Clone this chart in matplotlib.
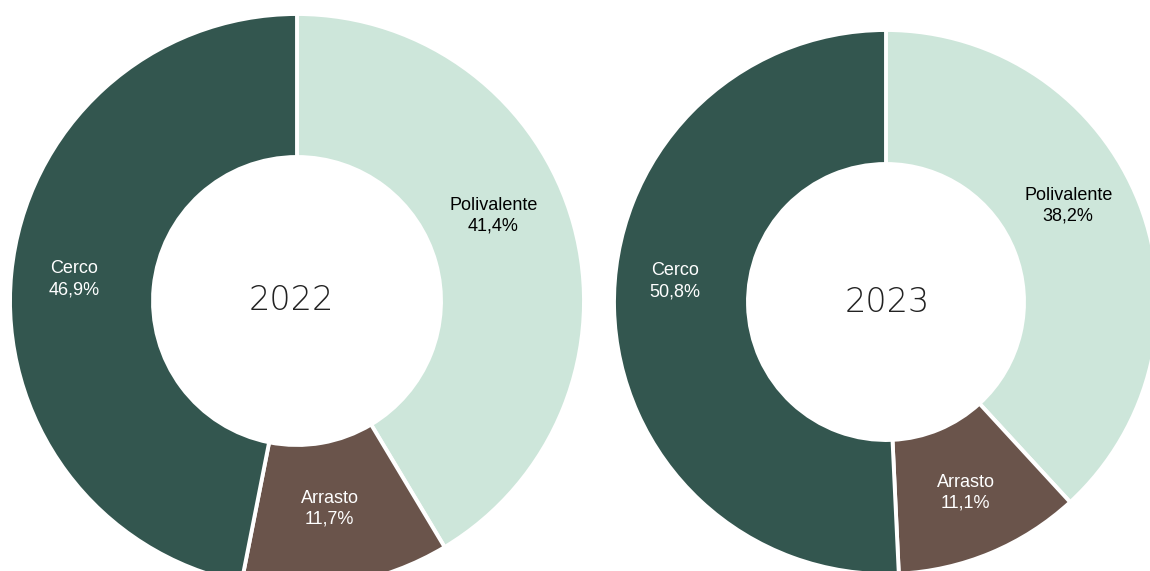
import numpy as np
import matplotlib.pyplot as plt
from matplotlib import font_manager as fm

# data
years = ["2022", "2023"]
categories = ["Polivalente", "Arrasto", "Cerco"]
shares_2022 = [41.4, 11.7, 46.9]
shares_2023 = [38.2, 11.1, 50.8]

colors = ["#CDE6DA", "#6A544B", "#33564F"]
text_colors = ["black", "white", "white"]

# regular Liberation Sans for labels, a thin face for the year
lab_font = fm.FontProperties(family="DejaVu Sans", size=13)
year_font = fm.FontProperties(family="Roboto", weight="light", size=26)
for f in fm.fontManager.ttflist:
    if f.fname.endswith("LiberationSans-Regular.ttf"):
        lab_font = fm.FontProperties(fname=f.fname, size=13)
for f in fm.fontManager.ttflist:
    if f.fname.endswith("DejaVuSans-ExtraLight.ttf"):
        year_font = fm.FontProperties(fname=f.fname, size=24)

# layout in pixel space (y up)
H = 571
donuts = [
    dict(vals=shares_2022, year=years[0], c=(297, H - 301), r=287, w=143,
         nudge=[8, -1, 0], lr=[214, 210, 224], yx=-6),
    dict(vals=shares_2023, year=years[1], c=(886, H - 302), r=272, w=134,
         nudge=[6.5, 0, -7], lr=[206, 207, 212], yx=1),
]

fig = plt.figure(figsize=(11.5, 5.71), dpi=100)
ax = fig.add_axes([0, 0, 1, 1])
ax.set_xlim(0, 1150)
ax.set_ylim(0, H)
ax.set_aspect("equal")
ax.axis("off")

for d in donuts:
    wedges, _ = ax.pie(d["vals"], colors=colors, startangle=90, counterclock=False,
                       center=d["c"], radius=d["r"], normalize=True,
                       wedgeprops=dict(width=d["w"], edgecolor="white", linewidth=2.8))
    for i, wdg in enumerate(wedges):
        ang = np.deg2rad((wdg.theta1 + wdg.theta2) / 2 + d["nudge"][i])
        x = d["c"][0] + d["lr"][i] * np.cos(ang)
        y = d["c"][1] + d["lr"][i] * np.sin(ang)
        lbl = "%s\n%s%%" % (categories[i], ("%.1f" % d["vals"][i]).replace(".", ","))
        ax.text(x, y, lbl, ha="center", va="center", fontproperties=lab_font,
                color=text_colors[i], linespacing=1.3)
    ax.text(d["c"][0] + d["yx"], d["c"][1], d["year"], ha="center", va="center",
            fontproperties=year_font, color="#222222")

ax.set_xlim(0, 1150)
ax.set_ylim(0, H)
fig.savefig("out.png", dpi=100)
